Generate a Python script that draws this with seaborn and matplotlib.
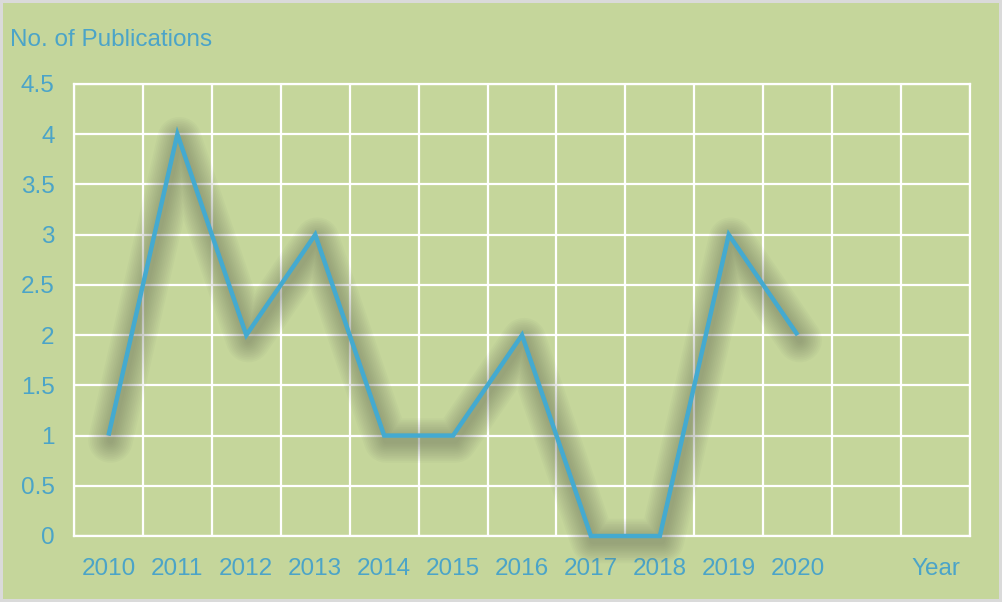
import matplotlib
matplotlib.use("Agg")
import matplotlib.pyplot as plt
import matplotlib.transforms as mtransforms
import seaborn as sns
import pandas as pd
import numpy as np

years = ["2010", "2011", "2012", "2013", "2014", "2015", "2016", "2017", "2018", "2019", "2020"]
publications = [1, 4, 2, 3, 1, 1, 2, 0, 0, 3, 2]
y_ticks = [0, 0.5, 1, 1.5, 2, 2.5, 3, 3.5, 4, 4.5]
y_tick_labels = ["0", "0.5", "1", "1.5", "2", "2.5", "3", "3.5", "4", "4.5"]

sns.set_theme(style="white")
plt.rcParams['font.family'] = ['Liberation Sans', 'DejaVu Sans']

BG = "#c5d69b"
BLUE = "#44aad0"
TXT = "#4ba4c8"
FS = 17.5

fig = plt.figure(figsize=(10.02, 6.02), dpi=100)
fig.patch.set_facecolor(BG)
fig.patch.set_edgecolor("#dadada")
fig.patch.set_linewidth(4)
ax = fig.add_axes([74/1002, 1-536/602, (970-74)/1002, (536-84)/602])
ax.set_facecolor(BG)

df = pd.DataFrame({"x": np.arange(len(years)), "y": publications})

# blurred shadow
for w in np.arange(32, 4, -2.5):
    tr = mtransforms.offset_copy(ax.transData, fig=fig, x=2, y=-5, units="dots")
    sns.lineplot(data=df, x="x", y="y", ax=ax, color="#505548", linewidth=w,
                 alpha=0.036, transform=tr, solid_capstyle="round", solid_joinstyle="round",
                 legend=False, zorder=3, clip_on=False)

sns.lineplot(data=df, x="x", y="y", ax=ax, color=BLUE, linewidth=3.2,
             solid_joinstyle="miter", solid_capstyle="butt", legend=False, zorder=5,
             clip_on=False)

ax.set_xlim(-0.5, 12.5)
ax.set_ylim(0, 4.5)
ax.set_xticks(list(range(len(years))) + [12])
ax.set_xticklabels(years + ["Year"])
ax.set_xticks(np.arange(-0.5, 13, 1), minor=True)
ax.set_yticks(y_ticks)
ax.set_yticklabels(y_tick_labels)
ax.grid(False)
ax.grid(True, which="minor", axis="x", color="white", linewidth=1.6)
ax.grid(True, which="major", axis="y", color="white", linewidth=1.6)
for s in ax.spines.values():
    s.set_color("white")
    s.set_linewidth(1.6)
ax.tick_params(axis="both", which="both", length=0, labelsize=FS, labelcolor=TXT)
ax.tick_params(axis="x", pad=16)
ax.tick_params(axis="y", pad=14)
ax.set_xlabel("")
ax.set_ylabel("")

fig.text(10/1002, 1-40/602, "No. of Publications", color=TXT, fontsize=FS,
         ha="left", va="center")

fig.savefig("out.png", dpi=100, facecolor=fig.get_facecolor(), edgecolor=fig.get_edgecolor())
